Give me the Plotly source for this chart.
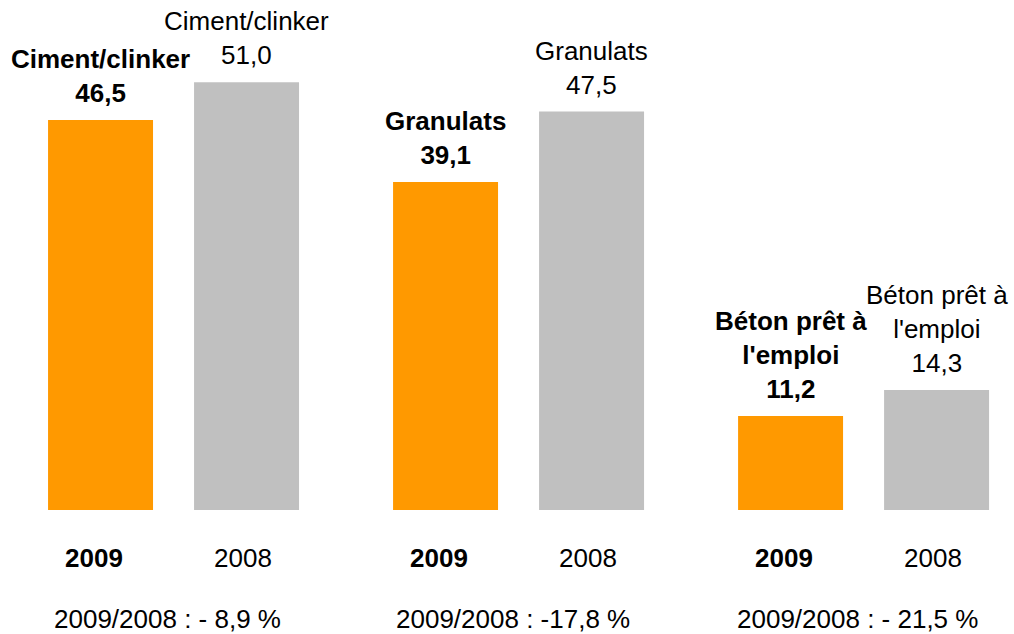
import plotly.graph_objects as go

categories = ["Ciment/clinker", "Granulats", "Béton prêt à<br>l'emploi"]
values_2009 = [46.5, 39.1, 11.2]
values_2008 = [51.0, 47.5, 14.3]
year_labels = ["2009", "2008"]
change_labels = ["2009/2008 : - 8,9 %", "2009/2008 : -17,8 %", "2009/2008 : - 21,5 %"]

ORANGE = "#FF9900"
GRAY = "#C0C0C0"
FONT = "Liberation Sans, Arial, sans-serif"
FS = 26

def fmt(v):
    return f"{v:.1f}".replace(".", ",")

x = list(range(len(categories)))

fig = go.Figure()
fig.add_trace(go.Bar(x=x, y=values_2009, marker=dict(color=ORANGE, line=dict(width=0)),
                     name=year_labels[0], hoverinfo="skip"))
fig.add_trace(go.Bar(x=x, y=values_2008, marker=dict(color=GRAY, line=dict(width=0)),
                     name=year_labels[1], hoverinfo="skip"))

ann = []
SHIFT = 73
for i, cat in enumerate(categories):
    # labels above bars
    ann.append(dict(x=i, y=values_2009[i], xref="x", yref="y", xshift=-SHIFT, yshift=10,
                    yanchor="bottom", showarrow=False,
                    text=f"<b>{cat}<br>{fmt(values_2009[i])}</b>",
                    font=dict(family=FONT, size=FS, color="black")))
    ann.append(dict(x=i, y=values_2008[i], xref="x", yref="y", xshift=SHIFT, yshift=10,
                    yanchor="bottom", showarrow=False,
                    text=f"{cat}<br>{fmt(values_2008[i])}",
                    font=dict(family=FONT, size=FS, color="black")))
    # year labels
    ann.append(dict(x=i, y=0, xref="x", yref="y", xshift=-SHIFT - 7, yshift=-48,
                    yanchor="middle", showarrow=False, text=f"<b>{year_labels[0]}</b>",
                    font=dict(family=FONT, size=FS, color="black")))
    ann.append(dict(x=i, y=0, xref="x", yref="y", xshift=SHIFT - 4, yshift=-48,
                    yanchor="middle", showarrow=False, text=year_labels[1],
                    font=dict(family=FONT, size=FS, color="black")))
    # change labels
    ann.append(dict(x=i, y=0, xref="x", yref="y", xshift=-6, yshift=-109,
                    yanchor="middle", showarrow=False, text=change_labels[i],
                    font=dict(family=FONT, size=FS, color="black")))

fig.update_layout(
    width=1014, height=634,
    margin=dict(l=0, r=0, t=0, b=124),
    barmode="group", bargap=0.1536, bargroupgap=0.281,
    paper_bgcolor="white", plot_bgcolor="white",
    showlegend=False,
    xaxis=dict(range=[-0.503, 2.436], visible=False, fixedrange=True),
    yaxis=dict(range=[0, 60.79], visible=False, fixedrange=True),
    annotations=ann,
    font=dict(family=FONT, size=FS),
)

fig.write_html("out.html", config={"displayModeBar": False},
               post_script="document.body.style.margin='0';document.body.style.overflow='hidden';")
